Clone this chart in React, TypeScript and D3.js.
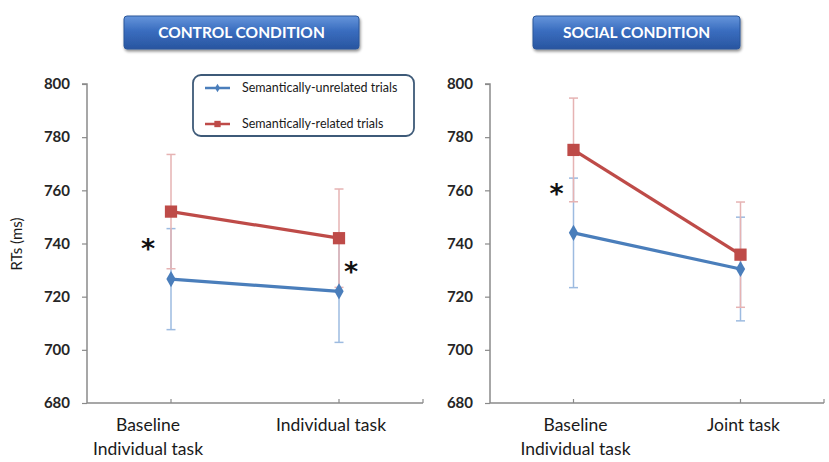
import React, { useEffect, useRef } from 'react';
import * as d3 from 'd3';

// RTs (ms) per condition, two categories each
const controlCategories = [['Baseline', 'Individual task'], ['Individual task']];
const socialCategories = [['Baseline', 'Individual task'], ['Joint task']];

const controlUnrelated = [726.6, 722.0];
const controlUnrelatedErr = [19.0, 19.2];
const controlRelated = [752.0, 742.0];
const controlRelatedErr = [21.5, 18.5];

const socialUnrelated = [744.0, 730.4];
const socialUnrelatedErr = [20.6, 19.5];
const socialRelated = [775.2, 735.8];
const socialRelatedErr = [19.5, 19.8];

const yTicks = [680, 700, 720, 740, 760, 780, 800];
const seriesNames = ['Semantically-unrelated trials', 'Semantically-related trials'];
const panelTitles = ['CONTROL CONDITION', 'SOCIAL CONDITION'];

// significance stars: category index, value, horizontal offset in px
const controlStars = [{ i: 0, v: 740, dx: -23 }, { i: 1, v: 731, dx: 12 }];
const socialStars = [{ i: 0, v: 760.5, dx: -17 }];

const BLUE = '#4a7ebb';
const RED = '#be4b48';
const BLUE_ERR = '#9dbbe0';
const RED_ERR = '#e6b3b3';
const AXIS = '#8a8a8a';

const App = () => {
  const svgRef = useRef<SVGSVGElement>(null);

  useEffect(() => {
    const svg = d3.select(svgRef.current);
    svg.selectAll('*').remove();

    const defs = svg.append('defs');
    const grad = defs.append('linearGradient')
      .attr('id', 'titleGrad').attr('x1', 0).attr('y1', 0).attr('x2', 0).attr('y2', 1);
    grad.append('stop').attr('offset', '0%').attr('stop-color', '#6595db');
    grad.append('stop').attr('offset', '45%').attr('stop-color', '#3a6dbf');
    grad.append('stop').attr('offset', '100%').attr('stop-color', '#2855a0');
    const shadow = defs.append('filter').attr('id', 'shadow')
      .attr('x', '-10%').attr('y', '-20%').attr('width', '120%').attr('height', '160%');
    shadow.append('feGaussianBlur').attr('in', 'SourceAlpha').attr('stdDeviation', 1.5);
    shadow.append('feOffset').attr('dx', 1).attr('dy', 2).attr('result', 'b');
    shadow.append('feComponentTransfer').append('feFuncA').attr('type', 'linear').attr('slope', 0.45);
    const merge = shadow.append('feMerge');
    merge.append('feMergeNode');
    merge.append('feMergeNode').attr('in', 'SourceGraphic');

    const yScale = d3.scaleLinear().domain([680, 800]).range([403, 84]);

    const panels = [
      {
        title: panelTitles[0], box: [124, 16, 235, 33], range: [87, 423], labelX: 70,
        cats: controlCategories, catDx: [-23, -8],
        series: [
          { values: controlUnrelated, err: controlUnrelatedErr, color: BLUE, errColor: BLUE_ERR, marker: 'diamond' },
          { values: controlRelated, err: controlRelatedErr, color: RED, errColor: RED_ERR, marker: 'square' },
        ],
        stars: controlStars,
      },
      {
        title: panelTitles[1], box: [533, 16, 207, 33], range: [490, 824], labelX: 473,
        cats: socialCategories, catDx: [2, 3],
        series: [
          { values: socialUnrelated, err: socialUnrelatedErr, color: BLUE, errColor: BLUE_ERR, marker: 'diamond' },
          { values: socialRelated, err: socialRelatedErr, color: RED, errColor: RED_ERR, marker: 'square' },
        ],
        stars: socialStars,
      },
    ];

    const diamond = d3.symbol().type(d3.symbolDiamond).size(75);
    const square = d3.symbol().type(d3.symbolSquare).size(150);

    panels.forEach(p => {
      const xScale = d3.scalePoint<number>()
        .domain(p.cats.map((_, i) => i))
        .range(p.range)
        .padding(0.5);

      // title banner
      const tb = svg.append('g');
      tb.append('rect')
        .attr('x', p.box[0]).attr('y', p.box[1])
        .attr('width', p.box[2]).attr('height', p.box[3])
        .attr('rx', 3)
        .attr('fill', 'url(#titleGrad)')
        .attr('stroke', '#2b579a').attr('stroke-width', 1)
        .attr('filter', 'url(#shadow)');
      tb.append('text')
        .attr('x', p.box[0] + p.box[2] / 2).attr('y', p.box[1] + p.box[3] / 2 + 5.5)
        .attr('text-anchor', 'middle')
        .attr('font-family', 'Lato, sans-serif').attr('font-weight', 700)
        .attr('font-size', 15.5).attr('fill', '#fff')
        .text(p.title);

      // y axis
      const yAxis = d3.axisLeft(yScale).tickValues(yTicks).tickSize(5).tickFormat(d3.format('d'));
      const ya = svg.append('g')
        .attr('transform', `translate(${p.range[0]},0)`)
        .call(yAxis);
      ya.select('.domain').attr('stroke', AXIS).attr('stroke-width', 1.5)
        .attr('d', `M-5,${yScale(800)}H0V${yScale(680)}`);
      ya.selectAll('.tick line').attr('stroke', AXIS).attr('stroke-width', 1.2);
      ya.selectAll('.tick text')
        .attr('x', p.labelX - p.range[0])
        .attr('font-family', 'Lato, sans-serif').attr('font-weight', 700)
        .attr('font-size', 15).attr('fill', '#262626');

      // x axis with category ticks pointing up
      const xa = svg.append('g');
      const y0 = yScale(680);
      xa.append('line')
        .attr('x1', p.range[0]).attr('x2', p.range[1])
        .attr('y1', y0).attr('y2', y0)
        .attr('stroke', AXIS).attr('stroke-width', 1.5);
      const tickXs = [...p.cats.map((_, i) => xScale(i) as number), p.range[1]];
      xa.selectAll('line.xt').data(tickXs).enter().append('line')
        .attr('class', 'xt')
        .attr('x1', d => d).attr('x2', d => d)
        .attr('y1', y0).attr('y2', y0 - 4)
        .attr('stroke', AXIS).attr('stroke-width', 1.2);
      p.cats.forEach((lines, i) => {
        const t = xa.append('text')
          .attr('text-anchor', 'middle')
          .attr('font-family', 'Lato, sans-serif')
          .attr('font-size', 17.5).attr('fill', '#1a1a1a');
        lines.forEach((l, k) => {
          t.append('tspan')
            .attr('x', (xScale(i) as number) + p.catDx[i])
            .attr('y', 431 + k * 24)
            .text(l);
        });
      });

      // error bars
      p.series.forEach(s => {
        const g = svg.append('g');
        s.values.forEach((v, i) => {
          const x = xScale(i) as number;
          const top = yScale(v + s.err[i]);
          const bot = yScale(v - s.err[i]);
          g.append('line').attr('x1', x).attr('x2', x).attr('y1', top).attr('y2', bot)
            .attr('stroke', s.errColor).attr('stroke-width', 1.5);
          [top, bot].forEach(yy => {
            g.append('line').attr('x1', x - 4.5).attr('x2', x + 4.5).attr('y1', yy).attr('y2', yy)
              .attr('stroke', s.errColor).attr('stroke-width', 1.5);
          });
        });
      });

      // lines and markers
      p.series.forEach(s => {
        const line = d3.line<number>()
          .x((_, i) => xScale(i) as number)
          .y(d => yScale(d));
        svg.append('path')
          .datum(s.values)
          .attr('d', line)
          .attr('fill', 'none')
          .attr('stroke', s.color)
          .attr('stroke-width', 3.2);
        svg.append('g').selectAll('path')
          .data(s.values)
          .enter()
          .append('path')
          .attr('transform', (d, i) => `translate(${xScale(i)},${yScale(d)})`)
          .attr('d', s.marker === 'diamond' ? diamond() : square())
          .attr('fill', s.color);
      });

      // significance stars
      svg.append('g').selectAll('text')
        .data(p.stars)
        .enter()
        .append('text')
        .attr('x', d => (xScale(d.i) as number) + d.dx)
        .attr('y', d => yScale(d.v) + 14)
        .attr('text-anchor', 'middle')
        .attr('font-family', 'DejaVu Sans, sans-serif')
        .attr('font-weight', 700)
        .attr('font-size', 27)
        .attr('fill', '#111')
        .text('*');
    });

    // legend
    const lg = svg.append('g');
    lg.append('rect')
      .attr('x', 193).attr('y', 75).attr('width', 221).attr('height', 61)
      .attr('rx', 8)
      .attr('fill', '#fff')
      .attr('stroke', '#3e5a78').attr('stroke-width', 1.8);
    const legendItems = [
      { name: seriesNames[0], color: BLUE, marker: 'diamond', y: 88 },
      { name: seriesNames[1], color: RED, marker: 'square', y: 124 },
    ];
    legendItems.forEach(it => {
      lg.append('line').attr('x1', 205).attr('x2', 230).attr('y1', it.y).attr('y2', it.y)
        .attr('stroke', it.color).attr('stroke-width', 2.5);
      lg.append('path')
        .attr('transform', `translate(217.5,${it.y})`)
        .attr('d', it.marker === 'diamond'
          ? d3.symbol().type(d3.symbolDiamond).size(22)()
          : d3.symbol().type(d3.symbolSquare).size(40)())
        .attr('fill', it.color);
      lg.append('text')
        .attr('x', 242).attr('y', it.y + 4)
        .attr('font-family', 'Lato, sans-serif').attr('font-size', 12.5)
        .attr('fill', '#1a1a1a')
        .text(it.name);
    });

    // y axis title
    svg.append('text')
      .attr('transform', 'translate(22,244) rotate(-90)')
      .attr('text-anchor', 'middle')
      .attr('font-family', 'Lato, sans-serif')
      .attr('font-size', 15)
      .attr('fill', '#1a1a1a')
      .text('RTs (ms)');
  }, []);

  return (
    <svg
      ref={svgRef}
      width={829}
      height={462}
      style={{ position: 'absolute', left: 0, top: 0, background: '#fff' }}
    ></svg>
  );
};

export default App;
